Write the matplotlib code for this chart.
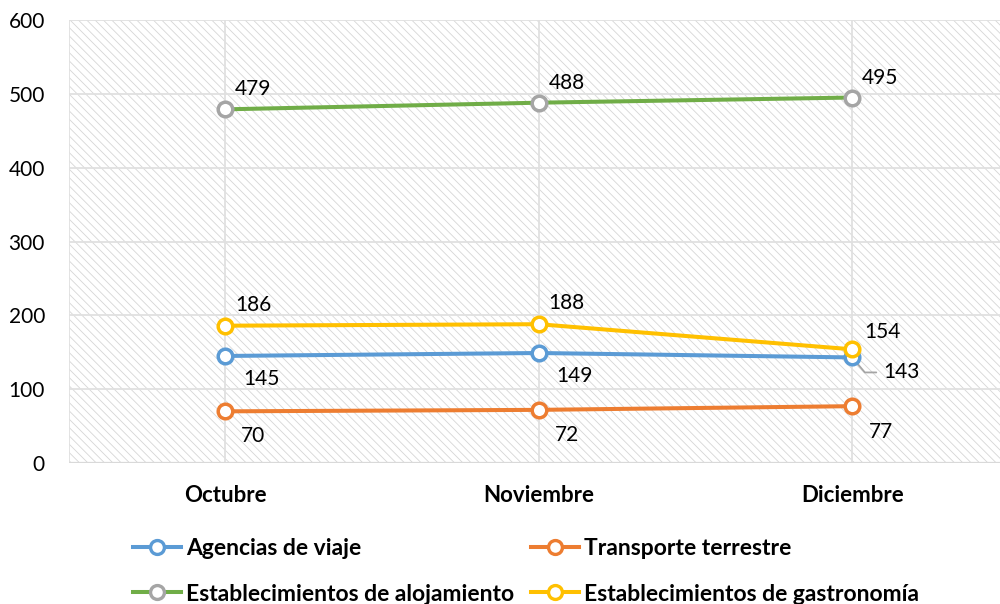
import matplotlib
matplotlib.use("Agg")
import matplotlib.pyplot as plt
from matplotlib.patches import Rectangle
from matplotlib.lines import Line2D

plt.rcParams['font.family'] = ['Lato', 'DejaVu Sans']
plt.rcParams['hatch.linewidth'] = 0.6
plt.rcParams['hatch.color'] = '#D6D6D6'

months = ["Octubre", "Noviembre", "Diciembre"]
series_names = ["Agencias de viaje", "Transporte terrestre",
                "Establecimientos de alojamiento", "Establecimientos de gastronomía"]
agencias = [145, 149, 143]
transporte = [70, 72, 77]
alojamiento = [479, 488, 495]
gastronomia = [186, 188, 154]
yticks = [0, 100, 200, 300, 400, 500, 600]

line_colors = ['#5B9BD5', '#ED7D31', '#70AD47', '#FFC000']
marker_colors = ['#5B9BD5', '#ED7D31', '#A5A5A5', '#FFC000']

fig = plt.figure(figsize=(10, 6.04), dpi=100)
ax = fig.add_axes([0.0685, 0.2334, 0.9405, 0.7335])
ax.set_xlim(-0.5, 2.5)
ax.set_ylim(0, 600)

bg = Rectangle((0, 0), 1, 1, transform=ax.transAxes, facecolor='white',
               edgecolor='#D6D6D6', hatch='\\\\\\\\', linewidth=0, zorder=0)
ax.add_patch(bg)

grid_c = '#E0E0E0'
for y in yticks:
    ax.axhline(y, color=grid_c, lw=1.3, zorder=1)
for x in range(len(months)):
    ax.axvline(x, color=grid_c, lw=1.3, zorder=1)

for s in ax.spines.values():
    s.set_visible(False)
ax.axvline(-0.5, color=grid_c, lw=1.3, zorder=1)
ax.axhline(0, color='#D9D9D9', lw=1.6, zorder=1)

xs = list(range(len(months)))
data = [agencias, transporte, alojamiento, gastronomia]
zorders = {0: 4, 1: 3, 2: 5, 3: 6}
for i in [1, 0, 2, 3]:
    ax.plot(xs, data[i], color=line_colors[i], lw=2.9, marker='o', ms=10.5,
            mfc='white', mec=marker_colors[i], mew=2.5, zorder=zorders[i],
            solid_capstyle='round')

fs = 15
P = 0.72  # px -> pt


def lab(x, v, dx, dy):
    ax.annotate(str(v), (x, v), xytext=(dx * P, dy * P), textcoords='offset points',
                fontsize=fs, ha='left', va='center', zorder=7)


lab(0, alojamiento[0], 10, 20)
lab(1, alojamiento[1], 10, 20)
lab(2, alojamiento[2], 10, 20)
lab(0, gastronomia[0], 10, 21)
lab(1, gastronomia[1], 10, 21)
lab(2, gastronomia[2], 12, 17)
lab(0, agencias[0], 18, -23)
lab(1, agencias[1], 18, -23)
lab(0, transporte[0], 16, -25)
lab(1, transporte[1], 16, -25)
lab(2, transporte[2], 17, -26)
ax.annotate(str(agencias[2]), (2, agencias[2]), xytext=(31 * P, -15 * P),
            textcoords='offset points', fontsize=fs, ha='left', va='center',
            arrowprops=dict(arrowstyle='-', color='#A5A5A5', lw=1.3,
                            connectionstyle='angle,angleA=0,angleB=-50,rad=0',
                            shrinkA=3, shrinkB=5))

ax.set_xticks(xs)
ax.set_xticklabels(months, fontsize=16, fontweight='bold')
ax.set_yticks(yticks)
ax.set_yticklabels([str(t) for t in yticks], fontsize=fs)
ax.tick_params(axis='both', length=0)
ax.tick_params(axis='x', pad=16)
ax.tick_params(axis='y', pad=17)

lfs = 16.5
handles = [Line2D([], [], color=line_colors[i], lw=2.9, marker='o', ms=10,
                  mfc='white', mec=marker_colors[i], mew=2.4)
           for i in range(4)]
order = [0, 2, 1, 3]
fig.legend([handles[i] for i in order], [series_names[i] for i in order],
           loc='lower left', bbox_to_anchor=(0.112, -0.035),
           ncol=2, frameon=False, prop={'size': lfs, 'weight': 'bold'},
           handlelength=2.1, handletextpad=0.25, columnspacing=0.7,
           labelspacing=1.08)

fig.savefig('out.png', dpi=100)
